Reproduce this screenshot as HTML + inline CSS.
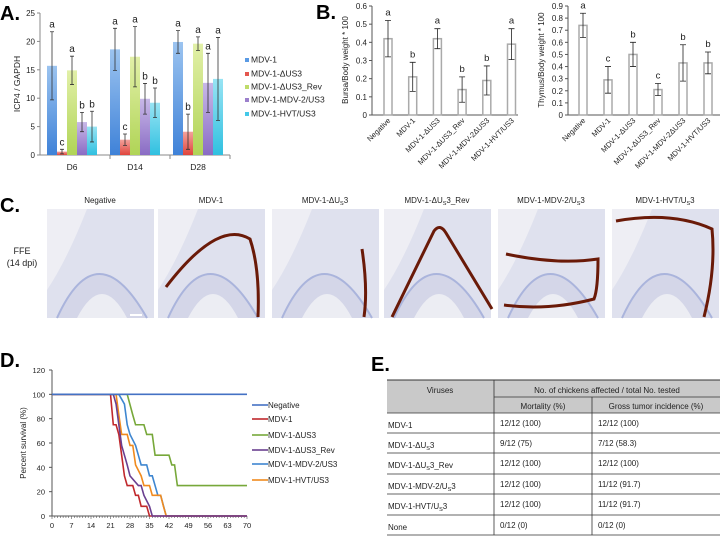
<!DOCTYPE html>
<html><head><meta charset="utf-8"><style>
html,body{margin:0;padding:0;background:#fff;}
svg{display:block;font-family:"Liberation Sans",Arial,sans-serif;}
</style></head><body>
<svg id="fig" width="721" height="536" viewBox="0 0 721 536" xmlns="http://www.w3.org/2000/svg">
<defs>
<linearGradient id="gb" x1="0" y1="0" x2="0" y2="1"><stop offset="0" stop-color="#9cc4f0"/><stop offset="1" stop-color="#3f82d8"/></linearGradient>
<linearGradient id="gr" x1="0" y1="0" x2="0" y2="1"><stop offset="0" stop-color="#f4a29c"/><stop offset="1" stop-color="#e0453c"/></linearGradient>
<linearGradient id="gg" x1="0" y1="0" x2="0" y2="1"><stop offset="0" stop-color="#e2f0a8"/><stop offset="1" stop-color="#b0d456"/></linearGradient>
<linearGradient id="gp" x1="0" y1="0" x2="0" y2="1"><stop offset="0" stop-color="#c8b8e8"/><stop offset="1" stop-color="#8a6cc4"/></linearGradient>
<linearGradient id="gc" x1="0" y1="0" x2="0" y2="1"><stop offset="0" stop-color="#98e4f4"/><stop offset="1" stop-color="#30c0e0"/></linearGradient>
</defs>
<g id="pA"></g>
<g id="pB"></g>
<g id="pC"></g>
<g id="pD"></g>
<g id="pE"></g>
</svg>
<script>
// ---------- Panel A data ----------
const aCategories = ["D6","D14","D28"];
const aSeries = ["MDV-1","MDV-1-ΔUS3","MDV-1-ΔUS3_Rev","MDV-1-MDV-2/US3","MDV-1-HVT/US3"];
const aValues = [[15.7,0.6,14.9,5.8,5.0],[18.6,2.7,17.3,9.9,9.2],[19.9,4.1,19.6,12.7,13.4]];
const aErrors = [[6.0,0.4,2.5,1.7,2.7],[3.7,1.0,5.3,2.7,2.6],[2.0,3.1,1.2,5.2,7.3]];
const aLetters = [["a","c","a","b","b"],["a","c","a","b","b"],["a","b","a","a","a"]];
const aTicks = [0,5,10,15,20,25];
// ---------- Panel B data ----------
const bCategories = ["Negative","MDV-1","MDV-1-ΔUS3","MDV-1-ΔUS3_Rev","MDV-1-MDV-2ΔUS3","MDV-1-HVT/US3"];
const bursaValues = [0.42,0.21,0.42,0.14,0.19,0.39];
const bursaErrors = [0.10,0.08,0.055,0.07,0.08,0.085];
const bursaLetters = ["a","b","a","b","b","a"];
const bursaTicks = [0,0.1,0.2,0.3,0.4,0.5,0.6];
const thymusValues = [0.74,0.29,0.50,0.21,0.43,0.43];
const thymusErrors = [0.10,0.11,0.10,0.05,0.15,0.09];
const thymusLetters = ["a","c","b","c","b","b"];
const thymusTicks = [0,0.1,0.2,0.3,0.4,0.5,0.6,0.7,0.8,0.9];
// ---------- Panel D data ----------
const dSeries = ["Negative","MDV-1","MDV-1-ΔUS3","MDV-1-ΔUS3_Rev","MDV-1-MDV-2/US3","MDV-1-HVT/US3"];
const negDays = [0,70];
const negSurv = [100,100];
const mdv1Days = [0,21,22,23,24,25,26,27,29,30,31,32,34,35,70];
const mdv1Surv = [100,100,75,75,67,50,33,25,25,17,17,8,8,0,0];
const delDays = [0,27,29,30,33,34,36,37,42,43,44,45,70];
const delSurv = [100,100,83,75,75,67,67,50,50,42,42,25,25];
const revDays = [0,22,23,24,25,26,27,28,31,32,33,35,36,70];
const revSurv = [100,100,92,75,58,50,42,33,25,25,17,8,0,0];
const mdv2Days = [0,24,26,27,28,30,31,32,34,35,36,37,38,39,41,70];
const mdv2Surv = [100,100,92,75,67,58,50,42,42,33,33,25,17,17,0,0];
const hvtDays = [0,23,24,25,27,28,29,30,32,33,35,36,39,40,41,70];
const hvtSurv = [100,100,83,67,67,58,58,42,33,25,25,17,17,8,0,0];
const dDays = [negDays,mdv1Days,delDays,revDays,mdv2Days,hvtDays];
const dSurv = [negSurv,mdv1Surv,delSurv,revSurv,mdv2Surv,hvtSurv];
const dTicks = [0,7,14,21,28,35,42,49,56,63,70];
const dYTicks = [0,20,40,60,80,100,120];

const NS="http://www.w3.org/2000/svg";
function mk(parent,tag,attrs,text){const e=document.createElementNS(NS,tag);for(const k in attrs)e.setAttribute(k,attrs[k]);if(text!==undefined)e.textContent=text;parent.appendChild(e);return e;}

// ===== Panel A =====
const pA=document.getElementById('pA');
const yA=v=>155-v*5.68, gStart=g=>47+g*63;
let t=mk(pA,'text',{x:0,y:20,'font-size':20,'font-weight':'bold'},'A.');


let l=mk(pA,'line',{x1:40,y1:13,x2:40,y2:155,stroke:'#888'});


l=mk(pA,'line',{x1:40,y1:155,x2:230,y2:155,stroke:'#888'});


aTicks.forEach(v=>{
 mk(pA,'line',{x1:37,x2:40,y1:yA(v),y2:yA(v),stroke:'#888'});
 t=mk(pA,'text',{x:35,y:yA(v)+3,'font-size':8,'text-anchor':'end',fill:'#222'},v);
 
 
});
[110,170,230].forEach(x=>mk(pA,'line',{x1:x,x2:x,y1:155,y2:159,stroke:'#888'}));
t=mk(pA,'text',{x:20,y:84,'font-size':8.5,'text-anchor':'middle',transform:'rotate(-90 20 84)',fill:'#222'},'ICP4 / GAPDH');


const aFills=['url(#gb)','url(#gr)','url(#gg)','url(#gp)','url(#gc)'];
const aLeg=['#5a9ae4','#e4564e','#bfdc6a','#9c80cc','#44c8e8'];
aCategories.forEach((c,g)=>{
 t=mk(pA,'text',{x:gStart(g)+25,y:170,'font-size':8.5,'text-anchor':'middle',fill:'#222'},c);
 
 
 aValues[g].forEach((v,i)=>{
  const x=gStart(g)+i*10;
  const r=mk(pA,'rect',{x:x,y:yA(v),width:10,height:155-yA(v),fill:aFills[i]});
  
  
  const e=aErrors[g][i],cx=x+5;
  mk(pA,'path',{d:`M${cx} ${yA(v+e)}V${yA(Math.max(v-e,0))}M${cx-2} ${yA(v+e)}h4M${cx-2} ${yA(Math.max(v-e,0))}h4`,stroke:'#333','stroke-width':0.8,fill:'none'});
  t=mk(pA,'text',{x:cx,y:yA(v+e)-4,'font-size':10,'text-anchor':'middle',fill:'#222'},aLetters[g][i]);
  
  
 });
});
const aLegY=[62,76,89,102,116];
aSeries.forEach((s,i)=>{
 const g=mk(pA,'g',{});
 
 
 mk(g,'rect',{x:245,y:aLegY[i]-4,width:4,height:4,fill:aLeg[i]});
 mk(g,'text',{x:251,y:aLegY[i]+0.5,'font-size':8.5,fill:'#222'},s);
});

// ===== Panel B =====
const pB=document.getElementById('pB');
t=mk(pB,'text',{x:316,y:19,'font-size':20,'font-weight':'bold'},'B.');


function barPanel(x0,x1,xc0,step,ymax,ticks,vals,errs,lets,title,name){
 const y=v=>115-v*(109/ymax), xc=i=>xc0+i*step;
 let e=mk(pB,'line',{x1:x0,y1:6,x2:x0,y2:115,stroke:'#555'});
 
 
 e=mk(pB,'line',{x1:x0,y1:115,x2:x1,y2:115,stroke:'#555'});
 
 
 ticks.forEach(v=>{
  mk(pB,'line',{x1:x0-3,x2:x0,y1:y(v),y2:y(v),stroke:'#555'});
  const tt=mk(pB,'text',{x:x0-5,y:y(v)+3,'font-size':8,'text-anchor':'end',fill:'#222'},v===0?'0':v.toFixed(1));
  
  
 });
 const ty=60, tx=x0-24;
 e=mk(pB,'text',{x:tx,y:ty,'font-size':8,'text-anchor':'middle',transform:`rotate(-90 ${tx} ${ty})`,fill:'#222'},title);
 
 
 bCategories.forEach((c,i)=>{
  const v=vals[i],er=errs[i],cx=xc(i);
  const r=mk(pB,'rect',{x:cx-4,y:y(v),width:8,height:115-y(v),fill:'#fff',stroke:'#aaa','stroke-width':1.5});
  
  
  mk(pB,'path',{d:`M${cx} ${y(v+er)}V${y(v-er)}M${cx-3} ${y(v+er)}h6M${cx-3} ${y(v-er)}h6`,stroke:'#222','stroke-width':0.8,fill:'none'});
  let tt=mk(pB,'text',{x:cx,y:y(v+er)-5,'font-size':9.5,'text-anchor':'middle',fill:'#222'},lets[i]);
  
  
  tt=mk(pB,'text',{x:cx+3,y:121,'font-size':7.5,'text-anchor':'end',transform:`rotate(-45 ${cx+3} 121)`,fill:'#222'},c);
  
  
 });
}
barPanel(372,518,388,24.7,0.6,bursaTicks,bursaValues,bursaErrors,bursaLetters,'Bursa/Body weight * 100','bursa');
barPanel(568,720,583,25,0.9,thymusTicks,thymusValues,thymusErrors,thymusLetters,'Thymus/Body weight * 100','thymus');

// ===== Panel C =====
const pC=document.getElementById('pC');
t=mk(pC,'text',{x:0,y:212,'font-size':20,'font-weight':'bold'},'C.');


const cTitles=['Negative','MDV-1','MDV-1-ΔU<S>3','MDV-1-ΔU<S>3_Rev','MDV-1-MDV-2/U<S>3','MDV-1-HVT/U<S>3'];
const cX=[47,158,272,384,498,612];
const cCurves=['', 'M8 78 Q60 10 92 30 Q102 60 100 108','M90 40 Q96 80 92 108','M8 108 L50 22 Q56 14 62 24 L108 100','M8 45 Q60 56 100 50 Q100 80 96 90 Q50 102 6 96','M4 12 Q60 2 100 20 Q104 60 92 108'];
cTitles.forEach((s,i)=>{
 const g=mk(pC,'g',{});
 
 
 const tt=mk(g,'text',{x:cX[i]+53,y:203,'font-size':8,'text-anchor':'middle',fill:'#222'});
 const parts=s.split('<S>');
 tt.appendChild(document.createTextNode(parts[0]));
 if(parts.length>1){mk(tt,'tspan',{'font-size':5.5,dy:2},'S');mk(tt,'tspan',{dy:-2},parts[1]);}
 mk(g,'rect',{x:cX[i],y:209,width:107,height:109,fill:'#dfe1ee'});
 mk(g,'path',{d:`M${cX[i]} ${209} L${cX[i]+40} 209 Q${cX[i]+20} 260 ${cX[i]} 290Z`,fill:'#eeeef4'});
 mk(g,'path',{d:`M${cX[i]+10} ${318} Q${cX[i]+50} ${230} ${cX[i]+100} ${318}`,fill:'#d4d6e8',stroke:'#aab4dc','stroke-width':2});
 mk(g,'path',{d:`M${cX[i]+30} ${318} Q${cX[i]+55} ${270} ${cX[i]+80} ${318}`,fill:'#ecedf3'});
 if(cCurves[i]) mk(g,'path',{d:cCurves[i],transform:`translate(${cX[i]} 209)`,fill:'none',stroke:'#6a1a08','stroke-width':3});
});
mk(pC,'rect',{x:130,y:314,width:12,height:2,fill:'#fff'});
t=mk(pC,'text',{x:22,y:254,'font-size':9,'text-anchor':'middle',fill:'#222'},'FFE');


t=mk(pC,'text',{x:22,y:266,'font-size':9,'text-anchor':'middle',fill:'#222'},'(14 dpi)');



// ===== Panel D =====
const pD=document.getElementById('pD');
const xD=d=>52+d*195/70, yD=v=>516-v*146/120;
t=mk(pD,'text',{x:0,y:367,'font-size':20,'font-weight':'bold'},'D.');


l=mk(pD,'line',{x1:52,y1:370,x2:52,y2:516,stroke:'#555'});


l=mk(pD,'line',{x1:52,y1:516,x2:247,y2:516,stroke:'#555'});


for(let d=0;d<=70;d++) mk(pD,'line',{x1:xD(d),x2:xD(d),y1:516,y2:d%7===0?519:518,stroke:'#555','stroke-width':0.6});
dTicks.forEach(d=>{
 t=mk(pD,'text',{x:xD(d),y:528,'font-size':7.5,'text-anchor':'middle',fill:'#222'},d);
 
 
});
dYTicks.forEach(v=>{
 mk(pD,'line',{x1:49,x2:52,y1:yD(v),y2:yD(v),stroke:'#555'});
 t=mk(pD,'text',{x:45,y:yD(v)+3,'font-size':7.5,'text-anchor':'end',fill:'#222'},v);
 
 
});
t=mk(pD,'text',{x:26,y:443,'font-size':8,'text-anchor':'middle',transform:'rotate(-90 26 443)',fill:'#222'},'Percent survival (%)');


const dCols=['#4472c4','#c0282c','#77a83a','#6a3f90','#3e86d0','#f08a1e'];
const dOrder=[2,4,5,1,3,0];
dOrder.forEach(i=>{
 const pts=dDays[i].map((d,k)=>xD(d)+','+yD(dSurv[i][k])).join(' ');
 const p=mk(pD,'polyline',{points:pts,fill:'none',stroke:dCols[i],'stroke-width':1.6});
 
 
});
const dLegY=[405,419,435,450,464,480];
dSeries.forEach((s,i)=>{
 const g=mk(pD,'g',{});
 
 
 mk(g,'line',{x1:252,x2:268,y1:dLegY[i],y2:dLegY[i],stroke:dCols[i],'stroke-width':1.6});
 mk(g,'text',{x:268,y:dLegY[i]+3,'font-size':8,fill:'#222'},s);
});

// ===== Panel E =====
const pE=document.getElementById('pE');
t=mk(pE,'text',{x:371,y:371,'font-size':20,'font-weight':'bold'},'E.');


mk(pE,'rect',{x:387,y:380,width:333,height:33,fill:'#c9c9c9'});
const eRows=[['MDV-1','','12/12 (100)','12/12 (100)'],['MDV-1-ΔU','3','9/12 (75)','7/12 (58.3)'],['MDV-1-ΔU','3_Rev','12/12 (100)','12/12 (100)'],['MDV-1-MDV-2/U','3','12/12 (100)','11/12 (91.7)'],['MDV-1-HVT/U','3','12/12 (100)','11/12 (91.7)'],[' None',null,'0/12 (0)','0/12 (0)']];
const rowY=[413,433,453,474,494,515,535];
mk(pE,'line',{x1:387,x2:720,y1:380,y2:380,stroke:'#333'});
mk(pE,'line',{x1:494,x2:720,y1:397,y2:397,stroke:'#333','stroke-width':0.7});
rowY.forEach(y=>mk(pE,'line',{x1:387,x2:720,y1:y,y2:y,stroke:'#333','stroke-width':0.8}));
mk(pE,'line',{x1:494,x2:494,y1:380,y2:535,stroke:'#333','stroke-width':0.8});
mk(pE,'line',{x1:592,x2:592,y1:397,y2:535,stroke:'#333','stroke-width':0.8});
t=mk(pE,'text',{x:440,y:393,'font-size':8,'text-anchor':'middle',fill:'#222'},'Viruses');


t=mk(pE,'text',{x:607,y:393,'font-size':8,'text-anchor':'middle',fill:'#222'},'No. of chickens affected / total No. tested');


t=mk(pE,'text',{x:543,y:409,'font-size':8,'text-anchor':'middle',fill:'#222'},'Mortality (%)');


t=mk(pE,'text',{x:656,y:409,'font-size':8,'text-anchor':'middle',fill:'#222'},'Gross tumor incidence (%)');


eRows.forEach((r,i)=>{
 const y=rowY[i]+13;
 const g=mk(pE,'g',{});
 
 
 const tv=mk(g,'text',{x:388,y:y+2,'font-size':8,fill:'#222'});
 tv.appendChild(document.createTextNode(r[0]));
 if(r[1]!==null && r[1]!==''){mk(tv,'tspan',{'font-size':5.5,dy:2},'S');mk(tv,'tspan',{dy:-2},r[1]);}
 mk(g,'text',{x:500,y:y,'font-size':8,fill:'#222'},r[2]);
 mk(g,'text',{x:598,y:y,'font-size':8,fill:'#222'},r[3]);
});
</script>
</body></html>
